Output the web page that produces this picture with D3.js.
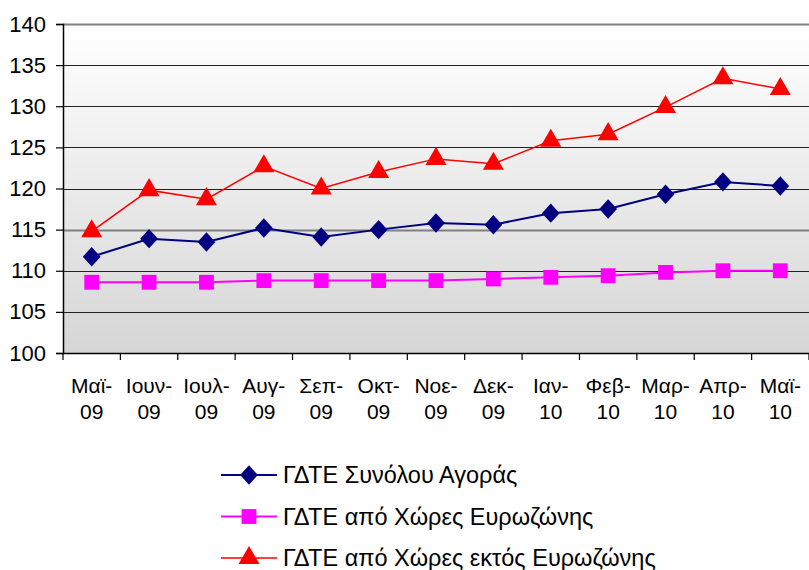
<!DOCTYPE html>
<html>
<head>
<meta charset="utf-8">
<script src="https://cdn.jsdelivr.net/npm/d3@7"></script>
<style>
  body { margin: 0; background: #fff; }
  svg { font-family: 'Liberation Sans', Arial, sans-serif; }
</style>
</head>
<body>
<div id="chart"></div>
<script>
// months (two-line labels)
var months = ['Μαϊ-|09', 'Ιουν-|09', 'Ιουλ-|09', 'Αυγ-|09', 'Σεπ-|09', 'Οκτ-|09', 'Νοε-|09',
  'Δεκ-|09', 'Ιαν-|10', 'Φεβ-|10', 'Μαρ-|10', 'Απρ-|10', 'Μαϊ-|10'];
var yTicks = [100, 105, 110, 115, 120, 125, 130, 135, 140];

var totalMarket = [111.7, 113.9, 113.5, 115.2, 114.1, 115.0, 115.8, 115.6, 117.0, 117.5, 119.3, 120.8, 120.3];
var euroZone = [108.6, 108.6, 108.6, 108.8, 108.8, 108.8, 108.8, 109.0, 109.2, 109.4, 109.8, 110.0, 110.0];
var nonEuroZone = [114.8, 119.8, 118.7, 122.7, 120.0, 122.0, 123.6, 123.0, 125.8, 126.6, 129.9, 133.4, 132.1];

var seriesNames = ['ΓΔΤΕ Συνόλου Αγοράς', 'ΓΔΤΕ από Χώρες Ευρωζώνης', 'ΓΔΤΕ από Χώρες εκτός Ευρωζώνης'];

var width = 809, height = 570;
var margin = {top: 24, right: 0, bottom: 217, left: 63};
var innerW = width - margin.left - margin.right;
var innerH = height - margin.top - margin.bottom;

var svg = d3.select('#chart').append('svg')
  .attr('width', width)
  .attr('height', height);

var defs = svg.append('defs');
var grad = defs.append('linearGradient')
  .attr('id', 'bg')
  .attr('x1', 0).attr('y1', 0).attr('x2', 0).attr('y2', 1);
grad.append('stop').attr('offset', '0%').attr('stop-color', '#ffffff');
grad.append('stop').attr('offset', '100%').attr('stop-color', '#d6d6d6');

var g = svg.append('g')
  .attr('transform', 'translate(' + margin.left + ',' + margin.top + ')');

var x = d3.scaleBand().domain(months).range([0, innerW]);
var y = d3.scaleLinear().domain([100, 140]).range([innerH, 0]);

g.append('rect')
  .attr('width', innerW)
  .attr('height', innerH)
  .attr('fill', 'url(#bg)');

// gridlines
g.selectAll('.grid')
  .data(yTicks.filter(function (d) { return d > 100; }))
  .enter().append('line')
  .attr('x1', 0).attr('x2', innerW)
  .attr('y1', function (d) { return Math.round(y(d)) + 0.5; })
  .attr('y2', function (d) { return Math.round(y(d)) + 0.5; })
  .attr('stroke', function (d) { return (d === 115 || d === 140) ? '#808080' : '#222'; })
  .attr('stroke-width', function (d) { return (d === 115 || d === 140) ? 2 : 1.2; });

// y axis
var yAxis = g.append('g')
  .call(d3.axisLeft(y).tickValues(yTicks).tickSize(7).tickPadding(10));
yAxis.select('.domain').attr('stroke', '#000').attr('stroke-width', 1.5);
yAxis.selectAll('.tick line').attr('stroke', '#000').attr('stroke-width', 1.2);
yAxis.selectAll('text').attr('font-size', 22).attr('fill', '#000')
  .attr('font-family', "'Liberation Sans', Arial, sans-serif");

// x axis
var xAxis = g.append('g')
  .attr('transform', 'translate(0,' + innerH + ')')
  .call(d3.axisBottom(x).tickSize(0).tickFormat(''));
xAxis.select('.domain').attr('stroke', '#000').attr('stroke-width', 1.5);

g.selectAll('.xtick')
  .data(d3.range(months.length + 1))
  .enter().append('line')
  .attr('x1', function (i) { return i * x.bandwidth(); })
  .attr('x2', function (i) { return i * x.bandwidth(); })
  .attr('y1', innerH).attr('y2', innerH + 7)
  .attr('stroke', '#000').attr('stroke-width', 1.2);

var xl = g.selectAll('.xlab')
  .data(months)
  .enter().append('text')
  .attr('text-anchor', 'middle')
  .attr('font-size', 21)
  .attr('fill', '#000')
  .attr('transform', function (d) {
    return 'translate(' + (x(d) + x.bandwidth() / 2) + ',' + (innerH + 40) + ')';
  });
xl.append('tspan').attr('x', 0).attr('dy', 0).text(function (d) { return d.split('|')[0]; });
xl.append('tspan').attr('x', 0).attr('dy', 26).text(function (d) { return d.split('|')[1]; });

var series = [
  {name: seriesNames[0], values: totalMarket, color: '#000080', width: 2, symbol: d3.symbolDiamond, size: 150},
  {name: seriesNames[1], values: euroZone, color: '#ff00ff', width: 2, symbol: d3.symbolSquare, size: 220},
  {name: seriesNames[2], values: nonEuroZone, color: '#ff0000', width: 1.5, symbol: d3.symbolTriangle, size: 190}
];

var line = d3.line()
  .x(function (d, i) { return x(months[i]) + x.bandwidth() / 2; })
  .y(function (d) { return y(d); });

series.forEach(function (s) {
  g.append('path')
    .datum(s.values)
    .attr('d', line)
    .attr('fill', 'none')
    .attr('stroke', s.color)
    .attr('stroke-width', s.width);
  var sym = d3.symbol().type(s.symbol).size(s.size);
  g.selectAll(null)
    .data(s.values)
    .enter().append('path')
    .attr('d', sym)
    .attr('fill', s.color)
    .attr('transform', function (d, i) {
      var sx = x(months[i]) + x.bandwidth() / 2;
      var sy = y(d);
      if (s.symbol === d3.symbolDiamond) {
        return 'translate(' + sx + ',' + sy + ') scale(1.35,0.85)';
      }
      return 'translate(' + sx + ',' + sy + ')';
    });
});

// legend
var legend = svg.append('g').attr('transform', 'translate(221,475)');
series.forEach(function (s, i) {
  var row = legend.append('g').attr('transform', 'translate(0,' + (i * 41.5) + ')');
  row.append('line')
    .attr('x1', 0).attr('x2', 56)
    .attr('y1', 0).attr('y2', 0)
    .attr('stroke', s.color).attr('stroke-width', s.width);
  var sym = d3.symbol().type(s.symbol).size(s.size);
  row.append('path')
    .attr('d', sym)
    .attr('fill', s.color)
    .attr('transform', s.symbol === d3.symbolDiamond
      ? 'translate(28,0) scale(1.35,0.85)' : 'translate(28,0)');
  row.append('text')
    .attr('x', 62).attr('y', 8)
    .attr('font-size', 23.5)
    .attr('fill', '#000')
    .text(s.name);
});
</script>
</body>
</html>
